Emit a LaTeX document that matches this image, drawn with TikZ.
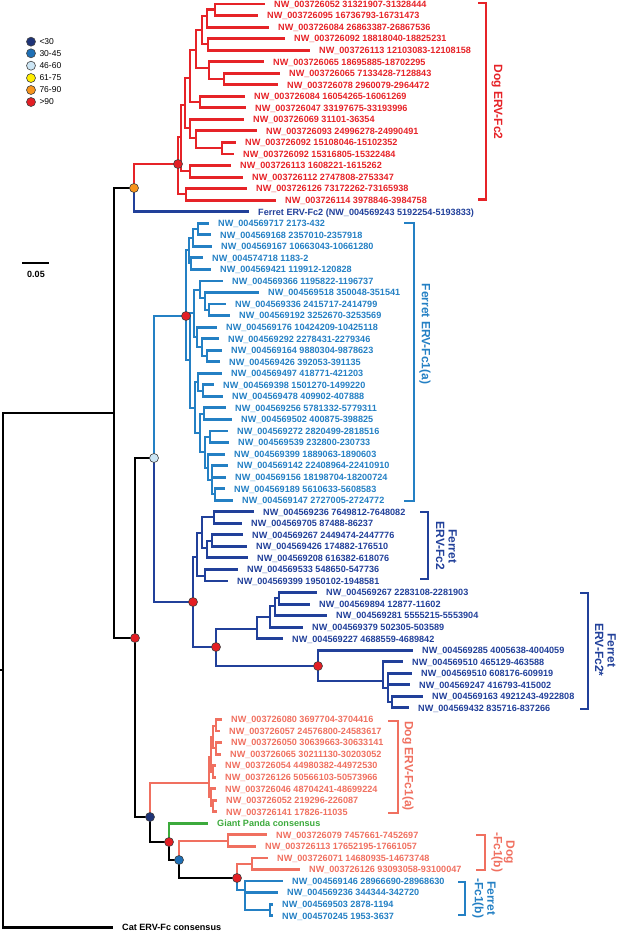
\documentclass[tikz,border=0pt]{standalone}
\usepackage{fontspec}
\setmainfont{Liberation Sans}
\usetikzlibrary{positioning}

\definecolor{dogred}{RGB}{230,35,40}
\definecolor{fblue}{RGB}{36,128,196}
\definecolor{dblue}{RGB}{33,64,154}
\definecolor{salmon}{RGB}{240,112,96}
\definecolor{pgreen}{RGB}{60,170,60}
\definecolor{sup30}{RGB}{31,52,120}
\definecolor{sup45}{RGB}{30,111,181}
\definecolor{sup60}{RGB}{204,229,244}
\definecolor{sup75}{RGB}{255,238,0}
\definecolor{sup90}{RGB}{247,148,29}
\definecolor{supred}{RGB}{227,30,36}

\begin{document}
\begin{tikzpicture}[x=1pt, y=-1pt]
% Define node styles
\tikzstyle{leaf} = [anchor=west, inner xsep=9pt, inner ysep=0pt, text height=6.6pt, text depth=0pt, font=\fontsize{9.1}{10}\selectfont\bfseries]
\tikzstyle{support} = [circle, draw=black!75, line width=0.6pt, minimum size=9pt, inner sep=0pt]
\tikzstyle{branch} = [line width=2.9pt]
\tikzstyle{bracket} = [line width=2.9pt]
\tikzstyle{cladelab} = [rotate=-90, align=center, inner sep=0pt, font=\fontsize{12}{12.5}\selectfont\bfseries]
\tikzstyle{legtext} = [inner sep=0pt, font=\fontsize{8.5}{10}\selectfont]

\useasboundingbox (0,0) rectangle (617,932);

% Legend
\node[support, fill=sup30] (k30) at (31,41.7) {};
\node[support, fill=sup45] (k45) at (31,53.3) {};
\node[support, fill=sup60] (k60) at (31,65.7) {};
\node[support, fill=sup75] (k75) at (31,78) {};
\node[support, fill=sup90] (k90) at (31,90) {};
\node[support, fill=supred] (k99) at (31,102) {};
\node[legtext, right=3.5pt of k30] (t30) {<30};
\node[legtext, right=3.5pt of k45] (t45) {30-45};
\node[legtext, right=3.5pt of k60] (t60) {46-60};
\node[legtext, right=3.5pt of k75] (t75) {61-75};
\node[legtext, right=3.5pt of k90] (t90) {76-90};
\node[legtext, right=3.5pt of k99] (t99) {>90};

% Scale bar
\coordinate (sbl) at (22,263);
\coordinate (sbr) at (49,263);
\draw[branch] (sbl) -- (sbr);
\node[inner sep=0pt, font=\fontsize{9}{10}\selectfont\bfseries] (sblab) at (36,274) {0.05};

% Leaves: Dog ERV-Fc2
\node[leaf, dogred] (r1) at (265,4.0) {NW\_003726052 31321907-31328444};
\node[leaf, dogred] (r2) at (258,15.5) {NW\_003726095 16736793-16731473};
\node[leaf, dogred] (r3) at (269,27.1) {NW\_003726084 26863387-26867536};
\node[leaf, dogred] (r4) at (285,38.6) {NW\_003726092 18818040-18825231};
\node[leaf, dogred] (r5) at (310,50.2) {NW\_003726113 12103083-12108158};
\node[leaf, dogred] (r6) at (264,61.7) {NW\_003726065 18695885-18702295};
\node[leaf, dogred] (r7) at (280,73.2) {NW\_003726065 7133428-7128843};
\node[leaf, dogred] (r8) at (278,84.8) {NW\_003726078 2960079-2964472};
\node[leaf, dogred] (r9) at (245,96.3) {NW\_003726084 16054265-16061269};
\node[leaf, dogred] (r10) at (246,107.9) {NW\_003726047 33197675-33193996};
\node[leaf, dogred] (r11) at (244,119.4) {NW\_003726069 31101-36354};
\node[leaf, dogred] (r12) at (257,130.9) {NW\_003726093 24996278-24990491};
\node[leaf, dogred] (r13) at (236,142.5) {NW\_003726092 15108046-15102352};
\node[leaf, dogred] (r14) at (234,154.0) {NW\_003726092 15316805-15322484};
\node[leaf, dogred] (r15) at (231,165.6) {NW\_003726113 1608221-1615262};
\node[leaf, dogred] (r16) at (243,177.1) {NW\_003726112 2747808-2753347};
\node[leaf, dogred] (r17) at (247,188.6) {NW\_003726126 73172262-73165938};
\node[leaf, dogred] (r18) at (276,200.2) {NW\_003726114 3978846-3984758};
\node[leaf, dblue] (ffc2) at (249,211.7) {Ferret ERV-Fc2 (NW\_004569243 5192254-5193833)};

% Leaves: Ferret ERV-Fc1(a)
\node[leaf, fblue] (a19) at (209,223.3) {NW\_004569717 2173-432};
\node[leaf, fblue] (a20) at (211,234.8) {NW\_004569168 2357010-2357918};
\node[leaf, fblue] (a21) at (212,246.3) {NW\_004569167 10663043-10661280};
\node[leaf, fblue] (a22) at (203,257.9) {NW\_004574718 1183-2};
\node[leaf, fblue] (a23) at (211,269.4) {NW\_004569421 119912-120828};
\node[leaf, fblue] (a24) at (223,281.0) {NW\_004569366 1195822-1196737};
\node[leaf, fblue] (a25) at (259,292.5) {NW\_004569518 350048-351541};
\node[leaf, fblue] (a26) at (226,304.0) {NW\_004569336 2415717-2414799};
\node[leaf, fblue] (a27) at (230,315.6) {NW\_004569192 3252670-3253569};
\node[leaf, fblue] (a28) at (217,327.1) {NW\_004569176 10424209-10425118};
\node[leaf, fblue] (a29) at (219,338.7) {NW\_004569292 2278431-2279346};
\node[leaf, fblue] (a30) at (222,350.2) {NW\_004569164 9880304-9878623};
\node[leaf, fblue] (a31) at (220,361.7) {NW\_004569426 392053-391135};
\node[leaf, fblue] (a32) at (222,373.3) {NW\_004569497 418771-421203};
\node[leaf, fblue] (a33) at (214,384.8) {NW\_004569398 1501270-1499220};
\node[leaf, fblue] (a34) at (223,396.4) {NW\_004569478 409902-407888};
\node[leaf, fblue] (a35) at (226,407.9) {NW\_004569256 5781332-5779311};
\node[leaf, fblue] (a36) at (232,419.4) {NW\_004569502 400875-398825};
\node[leaf, fblue] (a37) at (228,431.0) {NW\_004569272 2820499-2818516};
\node[leaf, fblue] (a38) at (229,442.5) {NW\_004569539 232800-230733};
\node[leaf, fblue] (a39) at (225,454.1) {NW\_004569399 1889063-1890603};
\node[leaf, fblue] (a40) at (228,465.6) {NW\_004569142 22408964-22410910};
\node[leaf, fblue] (a41) at (226,477.1) {NW\_004569156 18198704-18200724};
\node[leaf, fblue] (a42) at (225,488.7) {NW\_004569189 5610633-5608583};
\node[leaf, fblue] (a43) at (233,500.2) {NW\_004569147 2727005-2724772};

% Leaves: Ferret ERV-Fc2 and ERV-Fc2*
\node[leaf, dblue] (b44) at (254,511.8) {NW\_004569236 7649812-7648082};
\node[leaf, dblue] (b45) at (242,523.3) {NW\_004569705 87488-86237};
\node[leaf, dblue] (b46) at (243,534.8) {NW\_004569267 2449474-2447776};
\node[leaf, dblue] (b47) at (247,546.4) {NW\_004569426 174882-176510};
\node[leaf, dblue] (b48) at (248,557.9) {NW\_004569208 616382-618076};
\node[leaf, dblue] (b49) at (238,569.5) {NW\_004569533 548650-547736};
\node[leaf, dblue] (b50) at (228,581.0) {NW\_004569399 1950102-1948581};
\node[leaf, dblue] (c51) at (317,592.5) {NW\_004569267 2283108-2281903};
\node[leaf, dblue] (c52) at (310,604.1) {NW\_004569894 12877-11602};
\node[leaf, dblue] (c53) at (327,615.6) {NW\_004569281 5555215-5553904};
\node[leaf, dblue] (c54) at (303,627.2) {NW\_004569379 502305-503589};
\node[leaf, dblue] (c55) at (283,638.7) {NW\_004569227 4688559-4689842};
\node[leaf, dblue] (c56) at (413,650.2) {NW\_004569285 4005638-4004059};
\node[leaf, dblue] (c57) at (403,661.8) {NW\_004569510 465129-463588};
\node[leaf, dblue] (c58) at (412,673.3) {NW\_004569510 608176-609919};
\node[leaf, dblue] (c59) at (410,684.9) {NW\_004569247 416793-415002};
\node[leaf, dblue] (c60) at (423,696.4) {NW\_004569163 4921243-4922808};
\node[leaf, dblue] (c61) at (409,707.9) {NW\_004569432 835716-837266};

% Leaves: Dog ERV-Fc1(a), panda, Fc1(b), cat
\node[leaf, salmon] (d62) at (222,719.5) {NW\_003726080 3697704-3704416};
\node[leaf, salmon] (d63) at (220,731.0) {NW\_003726057 24576800-24583617};
\node[leaf, salmon] (d64) at (222,742.6) {NW\_003726050 30639663-30633141};
\node[leaf, salmon] (d65) at (221,754.1) {NW\_003726065 30211130-30203052};
\node[leaf, salmon] (d66) at (216,765.6) {NW\_003726054 44980382-44972530};
\node[leaf, salmon] (d67) at (216,777.2) {NW\_003726126 50566103-50573966};
\node[leaf, salmon] (d68) at (216,788.7) {NW\_003726046 48704241-48699224};
\node[leaf, salmon] (d69) at (217,800.3) {NW\_003726052 219296-226087};
\node[leaf, salmon] (d70) at (217,811.8) {NW\_003726141 17826-11035};
\node[leaf, pgreen] (panda) at (208,823.3) {Giant Panda consensus};
\node[leaf, salmon] (e72) at (267,834.9) {NW\_003726079 7457661-7452697};
\node[leaf, salmon] (e73) at (256,846.4) {NW\_003726113 17652195-17661057};
\node[leaf, salmon] (e74) at (268,858.0) {NW\_003726071 14680935-14673748};
\node[leaf, salmon] (e75) at (300,869.5) {NW\_003726126 93093058-93100047};
\node[leaf, fblue] (f76) at (283,881.0) {NW\_004569146 28966690-28968630};
\node[leaf, fblue] (f77) at (278,892.6) {NW\_004569236 344344-342720};
\node[leaf, fblue] (f78) at (273,904.1) {NW\_004569503 2878-1194};
\node[leaf, fblue] (f79) at (273,915.7) {NW\_004570245 1953-3637};
\node[leaf, black] (cat) at (113,927.2) {Cat ERV-Fc consensus};

% Internal nodes
\coordinate (stub) at (0,670);
\coordinate (root) at (3,670);
\coordinate (N1) at (114,413);
\coordinate (orange) at (134,188);
\coordinate (N2) at (135,638);
\coordinate (N3) at (150,817);
\coordinate (Rn3) at (169,842);
\coordinate (B1) at (179,860);
\coordinate (Rn2) at (237,878);
\coordinate (LBN) at (154,458);

\coordinate (R0) at (178,164);
\coordinate (Ra) at (181,137);
\coordinate (Rb) at (186,194);
\coordinate (Rb1) at (190,171);
\coordinate (Rq) at (185,105);
\coordinate (Rc) at (190,78);
\coordinate (Rd) at (190,128);
\coordinate (Re) at (196,138);
\coordinate (Rf) at (222,148);
\coordinate (Rg) at (196,50);
\coordinate (Rh) at (200,102);
\coordinate (Ri) at (202,30);
\coordinate (Rj) at (209,68);
\coordinate (Rl) at (224,79);
\coordinate (Rm) at (207,16);
\coordinate (Rn) at (215,9.8);
\coordinate (Ro) at (208,44);

\coordinate (LB0) at (186,316);
\coordinate (LBa) at (189,250);
\coordinate (LBa1) at (193,238);
\coordinate (LBa2) at (198,229);
\coordinate (LBa3) at (191,263);
\coordinate (LBb) at (190,360);
\coordinate (LBc) at (194,313);
\coordinate (LBe) at (200,290);
\coordinate (LBf) at (205,298);
\coordinate (LBg) at (209,310);
\coordinate (LBh) at (197,337);
\coordinate (LBi) at (202,347);
\coordinate (LBj) at (207,356);
\coordinate (LBd) at (195,408);
\coordinate (LBk) at (198,382);
\coordinate (LBm) at (203,391);
\coordinate (LBl) at (200,433);
\coordinate (LBn) at (204,414);
\coordinate (LBo) at (205,452);
\coordinate (LBp) at (210,437);
\coordinate (LBq) at (208,468);
\coordinate (LBr) at (212,480);
\coordinate (LBs) at (215,494);

\coordinate (DB0) at (193,602);
\coordinate (DBa) at (197,557);
\coordinate (DBb) at (202,533);
\coordinate (DBe) at (214,517);
\coordinate (DBf) at (207,548);
\coordinate (DBg) at (212,541);
\coordinate (DBc) at (205,576);
\coordinate (DB2) at (216,647);
\coordinate (DBh) at (257,629);
\coordinate (DBi) at (270,617);
\coordinate (DBj) at (275,606);
\coordinate (DBk) at (279,598);
\coordinate (DB3) at (318,666);
\coordinate (DBl) at (383,681);
\coordinate (DBm) at (388,688);
\coordinate (DBn) at (392,702);

\coordinate (Da0) at (209,783);
\coordinate (Da1) at (211,757);
\coordinate (Da2) at (211,797);
\coordinate (Da3) at (213,737);
\coordinate (Da5) at (213,772);
\coordinate (Da6) at (216,726);
\coordinate (Da7) at (216,748);
\coordinate (Da8) at (213,806);
\coordinate (Db1) at (228,841);
\coordinate (Db2) at (252,864);
\coordinate (Fb) at (245,890);
\coordinate (Fb2) at (270,910);

% Draw branches
\draw[branch] (stub) -- (root) (root) |- (N1) (root) |- (cat.west)
  (N1) |- (orange) (N1) |- (N2) (N2) |- (LBN) (N2) |- (N3)
  (N3) |- (Rn3) (Rn3) |- (B1) (B1) |- (Rn2);

\draw[branch, dogred] (orange) |- (R0)
  (R0) |- (Ra) (R0) |- (Rb) (Ra) |- (Rq) (Ra) |- (Rb1)
  (Rq) |- (Rc) (Rq) |- (Rd) (Rc) |- (Rg) (Rc) |- (Rh)
  (Rg) |- (Ri) (Rg) |- (Rj) (Ri) |- (Rm) (Ri) |- (Ro)
  (Rm) |- (Rn) (Rm) |- (r3.west) (Rn) |- (r1.west) (Rn) |- (r2.west)
  (Ro) |- (r4.west) (Ro) |- (r5.west) (Rj) |- (r6.west) (Rj) |- (Rl)
  (Rl) |- (r7.west) (Rl) |- (r8.west) (Rh) |- (r9.west) (Rh) |- (r10.west)
  (Rd) |- (r11.west) (Rd) |- (Re) (Re) |- (r12.west) (Re) |- (Rf)
  (Rf) |- (r13.west) (Rf) |- (r14.west) (Rb1) |- (r15.west) (Rb1) |- (r16.west)
  (Rb) |- (r17.west) (Rb) |- (r18.west);

\draw[branch, fblue] (LBN) |- (LB0)
  (LB0) |- (LBa) (LB0) |- (LBb) (LBa) |- (LBa1) (LBa) |- (LBa3)
  (LBa1) |- (LBa2) (LBa1) |- (a21.west) (LBa2) |- (a19.west) (LBa2) |- (a20.west)
  (LBa3) |- (a22.west) (LBa3) |- (a23.west)
  (LBb) |- (LBc) (LBb) |- (LBd) (LBc) |- (LBe) (LBc) |- (LBh)
  (LBe) |- (a24.west) (LBe) |- (LBf) (LBf) |- (a25.west) (LBf) |- (LBg)
  (LBg) |- (a26.west) (LBg) |- (a27.west)
  (LBh) |- (a28.west) (LBh) |- (LBi) (LBi) |- (a29.west) (LBi) |- (LBj)
  (LBj) |- (a30.west) (LBj) |- (a31.west)
  (LBd) |- (LBk) (LBd) |- (LBl) (LBk) |- (a32.west) (LBk) |- (LBm)
  (LBm) |- (a33.west) (LBm) |- (a34.west)
  (LBl) |- (LBn) (LBl) |- (LBo) (LBn) |- (a35.west) (LBn) |- (a36.west)
  (LBo) |- (LBp) (LBo) |- (LBq) (LBp) |- (a37.west) (LBp) |- (a38.west)
  (LBq) |- (a39.west) (LBq) |- (LBr) (LBr) |- (a40.west) (LBr) |- (a41.west) (LBr) |- (LBs)
  (LBs) |- (a42.west) (LBs) |- (a43.west)
  (Rn2) |- (Fb) (Fb) |- (f76.west) (Fb) |- (f77.west) (Fb) |- (Fb2)
  (Fb2) |- (f78.west) (Fb2) |- (f79.west);

\draw[branch, dblue] (orange) |- (ffc2.west) (LBN) |- (DB0)
  (DB0) |- (DBa) (DB0) |- (DB2) (DBa) |- (DBb) (DBa) |- (DBc)
  (DBb) |- (DBe) (DBb) |- (DBf) (DBe) |- (b44.west) (DBe) |- (b45.west)
  (DBf) |- (DBg) (DBf) |- (b48.west) (DBg) |- (b46.west) (DBg) |- (b47.west)
  (DBc) |- (b49.west) (DBc) |- (b50.west)
  (DB2) |- (DBh) (DB2) |- (DB3) (DBh) |- (DBi) (DBh) |- (c55.west)
  (DBi) |- (DBj) (DBi) |- (c54.west) (DBj) |- (DBk) (DBj) |- (c53.west)
  (DBk) |- (c51.west) (DBk) |- (c52.west)
  (DB3) |- (c56.west) (DB3) |- (DBl) (DBl) |- (c57.west) (DBl) |- (DBm)
  (DBm) |- (c58.west) (DBm) |- (c59.west) (DBm) |- (DBn)
  (DBn) |- (c60.west) (DBn) |- (c61.west);

\draw[branch, salmon] (N3) |- (Da0)
  (Da0) |- (Da1) (Da0) |- (Da2) (Da1) |- (Da3) (Da1) |- (Da5)
  (Da3) |- (Da6) (Da3) |- (Da7) (Da6) |- (d62.west) (Da6) |- (d63.west)
  (Da7) |- (d64.west) (Da7) |- (d65.west) (Da5) |- (d66.west) (Da5) |- (d67.west)
  (Da2) |- (d68.west) (Da2) |- (Da8) (Da8) |- (d69.west) (Da8) |- (d70.west)
  (B1) |- (Db1) (Db1) |- (e72.west) (Db1) |- (e73.west)
  (Rn2) |- (Db2) (Db2) |- (e74.west) (Db2) |- (e75.west);

\draw[branch, pgreen] (Rn3) |- (panda.west);

% Support markers
\node[support, fill=sup90] (m1) at (orange) {};
\node[support, fill=supred] (m2) at (R0) {};
\node[support, fill=supred] (m3) at (LB0) {};
\node[support, fill=sup60] (m4) at (LBN) {};
\node[support, fill=supred] (m5) at (DB0) {};
\node[support, fill=supred] (m6) at (DB2) {};
\node[support, fill=supred] (m7) at (DB3) {};
\node[support, fill=supred] (m8) at (N2) {};
\node[support, fill=sup30] (m9) at (N3) {};
\node[support, fill=supred] (m10) at (Rn3) {};
\node[support, fill=sup45] (m11) at (B1) {};
\node[support, fill=supred] (m12) at (Rn2) {};

% Clade brackets
\draw[bracket, dogred] (478,3) -| (486,199.5) -- (478,199.5);
\node[cladelab, dogred] (lab1) at (497,102) {Dog ERV-Fc2};
\draw[bracket, fblue] (404,223) -| (414,501) -- (404,501);
\node[cladelab, fblue] (lab2) at (425,334) {Ferret ERV-Fc1(a)};
\draw[bracket, dblue] (420,512) -| (428,579) -- (420,579);
\node[cladelab, dblue] (lab3) at (446.5,546) {Ferret\\ERV-Fc2};
\draw[bracket, dblue] (580,593) -| (588,709) -- (580,709);
\node[cladelab, dblue] (lab4) at (605.5,650) {Ferret\\ERV-Fc2*};
\draw[bracket, salmon] (388,721) -| (398,813) -- (388,813);
\node[cladelab, salmon] (lab5) at (408,766) {Dog ERV-Fc1(a)};
\draw[bracket, salmon] (476,835) -| (485,870) -- (476,870);
\node[cladelab, salmon] (lab6) at (503,852) {Dog\\-Fc1(b)};
\draw[bracket, fblue] (458,882) -| (465,915) -- (458,915);
\node[cladelab, fblue] (lab7) at (484,898) {Ferret\\-Fc1(b)};
\end{tikzpicture}
\end{document}
